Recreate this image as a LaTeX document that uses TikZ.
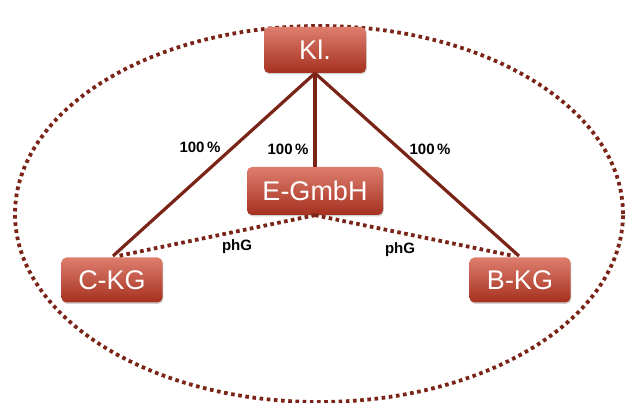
\documentclass[tikz,border=0pt]{standalone}
\usepackage{fontspec}
\setmainfont{Liberation Sans}
\usetikzlibrary{shadows,shapes.geometric}
\definecolor{linered}{HTML}{7A2418}
\definecolor{boxtop}{HTML}{DE7E6E}
\definecolor{boxbot}{HTML}{A5301F}
\tikzset{
  orgbox/.style={rounded corners=5pt, top color=boxtop, bottom color=boxbot, draw=none,
    text=white, font=\fontsize{27}{30}\selectfont, inner sep=0pt,
    drop shadow={opacity=0.35, shadow xshift=0.8pt, shadow yshift=-1.5pt}},
  solidlink/.style={draw=linered, line width=3.2pt},
  dotlink/.style={draw=linered, line width=3.8pt, dash pattern=on 3.6pt off 3.4pt},
  pct/.style={font=\bfseries\fontsize{15}{17}\selectfont, text=black},
}
\begin{document}
\begin{tikzpicture}[x=1pt,y=-1pt]
\useasboundingbox (0,0) rectangle (630,403);
\node[draw=linered, line width=3.8pt, dash pattern=on 3.6pt off 3.6pt, ellipse, minimum width=608pt, minimum height=376pt, inner sep=0pt] (ell) at (319,214) {};
\node[orgbox, minimum width=102pt, minimum height=46pt] (kl) at (315,50) {Kl.};
\node[orgbox, minimum width=136pt, minimum height=48pt] (eg) at (315,191) {E-GmbH};
\node[orgbox, minimum width=101pt, minimum height=45pt] (ckg) at (112,280) {C-KG};
\node[orgbox, minimum width=101pt, minimum height=45pt] (bkg) at (520,280) {B-KG};
\coordinate (cend) at (113,256);
\coordinate (bend) at (519,256);
\coordinate (cdot) at (118,256);
\coordinate (bdot) at (514,256);
\draw[solidlink] (kl.south) -- (cend);
\draw[solidlink] (kl.south) -- (bend);
\draw[solidlink] (kl.south) -- (eg.north);
\draw[dotlink] (eg.south) -- (cdot);
\draw[dotlink] (eg.south) -- (bdot);
\node[pct] (p1) at (200,147) {100\,\%};
\node[pct] (p2) at (288,149) {100\,\%};
\node[pct] (p3) at (430,149) {100\,\%};
\node[pct] (g1) at (237,247) {phG};
\node[pct] (g2) at (400,250) {phG};
\end{tikzpicture}
\end{document}
